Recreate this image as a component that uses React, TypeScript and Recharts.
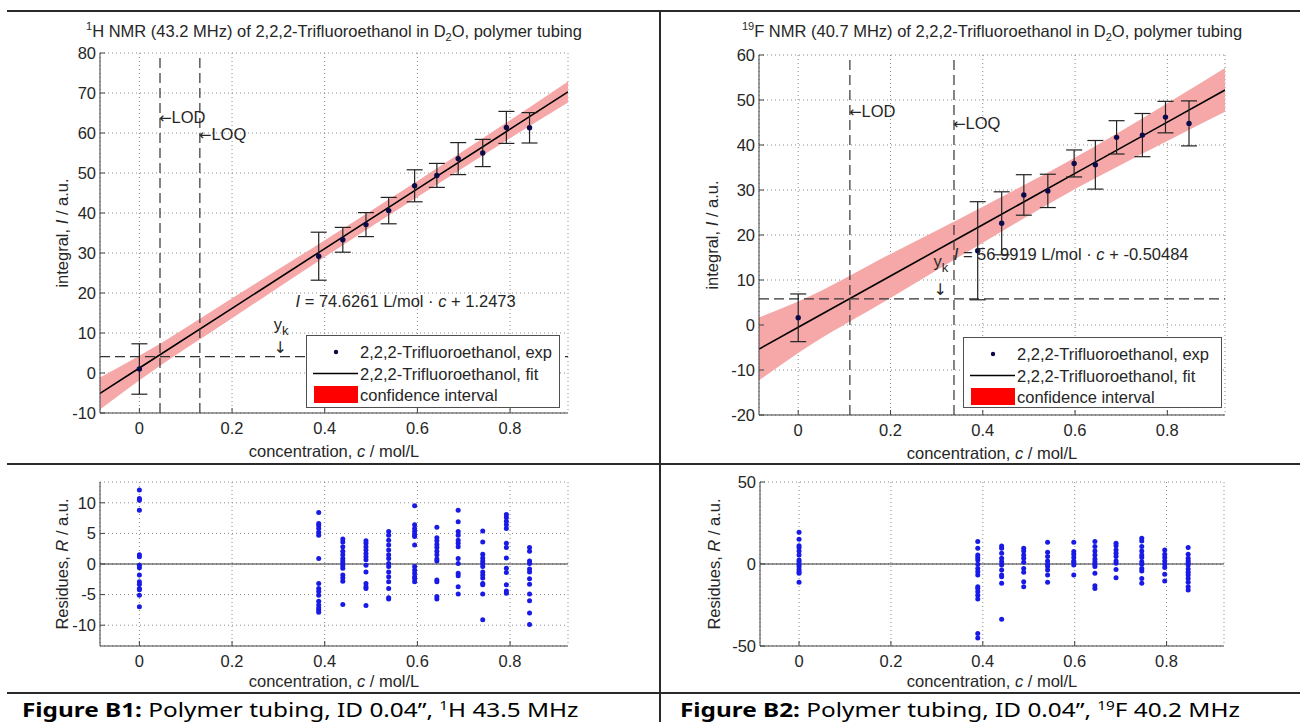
import React from 'react';
import {
  ComposedChart, XAxis, YAxis, CartesianGrid, Scatter, Line, Area, ErrorBar,
  ReferenceLine, ReferenceDot, Legend,
} from 'recharts';

// ---------------- data ----------------
const xTicks = [0, 0.2, 0.4, 0.6, 0.8];
const xDomain: [number, number] = [-0.085, 0.925];

// 1H (left)
const yTicksH = [-10, 0, 10, 20, 30, 40, 50, 60, 70, 80];
const concH = [0, 0.387, 0.439, 0.489, 0.538, 0.594, 0.642, 0.688, 0.741, 0.792, 0.842];
const integralH = [1.0, 29.2, 33.3, 37.1, 40.6, 46.8, 49.4, 53.6, 55.0, 61.4, 61.3];
const errH = [6.3, 6.0, 3.1, 3.0, 3.3, 4.0, 3.0, 4.0, 3.4, 4.0, 3.8];
const bandCH = [-0.085, 0, 0.2, 0.4, 0.6, 0.8, 0.925];
const fitH = [-5.10, 1.25, 16.17, 31.10, 46.02, 60.95, 70.28];
const bandLoH = [-9.1, -1.8, 13.7, 29.0, 44.0, 58.7, 67.6];
const bandHiH = [-1.1, 4.3, 18.7, 33.2, 48.0, 63.2, 72.9];
const lodH = 0.0445;
const loqH = 0.1305;
const ykH = 4.1;
const residTicksH = [-10, -5, 0, 5, 10];
const residH: number[][] = [
  [12.1, 10.7, 10.4, 8.8, 1.5, 1.2, -0.2, -0.6, -1.8, -2.9, -3.3, -4.0, -4.2, -5.1, -7.0],
  [8.4, 6.6, 6.3, 5.8, 5.2, 4.7, 0.9, -3.2, -4.0, -4.5, -5.1, -6.1, -6.7, -7.2, -7.5, -7.9],
  [4.1, 3.6, 2.8, 2.1, 1.5, 0.9, 0.5, 0.1, -0.3, -0.7, -1.8, -2.3, -2.8, -6.6],
  [3.8, 3.4, 2.8, 2.3, 1.7, 1.2, 0.7, -0.2, -1.3, -3.2, -3.7, -4.0, -6.8],
  [5.3, 4.7, 3.9, 3.1, 2.3, 1.5, 0.9, 0.1, -0.4, -1.3, -2.1, -2.9, -4.0, -5.5, -5.7],
  [9.5, 6.4, 5.8, 5.3, 4.8, 4.5, 3.1, -0.4, -1.0, -1.5, -2.1, -2.4, -2.9],
  [6.0, 4.3, 3.8, 3.2, 2.7, 2.1, 1.5, 0.8, 0.5, -2.6, -2.9, -5.3, -5.7],
  [8.8, 6.9, 5.3, 4.7, 3.9, 3.4, 2.8, 0.9, 0.1, -1.5, -1.9, -3.7, -4.9],
  [5.4, 3.6, 1.6, 1.0, 0.5, 0.1, -0.4, -1.3, -1.8, -2.3, -3.2, -3.4, -4.9, -9.1],
  [8.1, 7.6, 7.0, 6.4, 5.8, 3.4, 2.7, 1.0, -0.7, -1.4, -3.4, -4.4, -4.8],
  [2.7, 2.1, 0.5, 0.1, -0.8, -1.3, -2.4, -3.3, -4.9, -6.0, -8.0, -9.9],
];

// 19F (right)
const yTicksF = [-20, -10, 0, 10, 20, 30, 40, 50, 60];
const concF = [0, 0.389, 0.441, 0.489, 0.541, 0.598, 0.644, 0.690, 0.746, 0.796, 0.847];
const integralF = [1.6, 16.5, 22.6, 28.9, 29.8, 35.9, 35.6, 41.7, 42.2, 46.2, 44.8];
const errF = [5.3, 10.9, 7.0, 4.5, 3.7, 3.0, 5.4, 3.7, 4.8, 3.5, 5.0];
const bandCF = [-0.085, 0, 0.2, 0.4, 0.6, 0.8, 0.925];
const fitF = [-5.35, -0.50, 10.89, 22.29, 33.69, 45.09, 52.21];
const bandLoF = [-12.3, -6.2, 6.0, 18.3, 30.2, 40.9, 47.4];
const bandHiF = [1.7, 5.2, 15.8, 26.3, 37.2, 49.3, 57.1];
const lodF = 0.112;
const loqF = 0.3376;
const ykF = 5.8;
const residTicksF = [-50, 0, 50];
const residF: number[][] = [
  [19.4, 15.1, 11.2, 10.0, 8.0, 5.5, 2.4, 1.4, -0.2, -1.6, -3.3, -4.7, -5.7, -11.2],
  [13.7, 9.6, 5.5, 3.9, 2.4, -0.2, -2.7, -4.7, -6.7, -13.9, -14.9, -16.9, -19.0, -21.4, -42.4, -45.1],
  [11.0, 9.6, 6.5, 3.5, 1.4, -0.6, -3.7, -6.7, -7.8, -11.8, -33.7],
  [9.6, 8.0, 5.5, 3.5, 1.0, -2.7, -5.1, -10.8, -13.9],
  [13.3, 7.1, 4.5, 1.8, -0.2, -1.6, -3.7, -6.7, -11.2],
  [13.3, 7.6, 5.9, 3.9, 1.8, 1.0, -0.6, -6.7],
  [13.7, 10.6, 8.0, 5.5, 3.1, 1.4, -0.2, -1.6, -5.7, -13.3, -14.9],
  [12.7, 11.2, 8.6, 6.5, 4.5, 1.8, 0.4, -3.3, -8.4],
  [15.7, 14.1, 10.6, 8.0, 5.5, 3.9, 1.4, -0.2, -2.7, -4.3, -8.8, -11.8],
  [8.6, 5.9, 3.9, 1.8, -0.2, -2.2, -6.3, -10.4],
  [10.0, 5.9, 3.5, 1.8, 0.4, -0.6, -3.1, -5.1, -6.7, -8.8, -11.2, -13.9, -15.9],
];

// ---------------- styles ----------------
const FONT = '"Liberation Sans", Arial, Helvetica, sans-serif';
const ARROW_FONT = '"DejaVu Sans", sans-serif';
const TEXT = '#262626';
const AXIS = '#404040';
const GRID = '#8a8a8a';
const BAND = '#f6a8a8';
const DOT_TOP = '#0a0a4a';
const DOT_RES = '#1a1ae6';
const FS = 16.5;

const fmtX = (v: number) => (v === 0 ? '0' : String(v));

const tickStyle = { fill: TEXT, fontSize: FS, fontFamily: FONT };

const yLabel = (name: string, sym: string, dx: number) => (props: any) => {
  const vb = props.viewBox || { x: 0, y: 0, width: 0, height: 0 };
  const x = vb.x + dx;
  const y = vb.y + vb.height / 2;
  return (
    <text x={x} y={y} transform={`rotate(-90 ${x} ${y})`} textAnchor="middle"
      dominantBaseline="central" fontSize={FS} fontFamily={FONT} fill={TEXT}>
      {name}, <tspan fontStyle="italic">{sym}</tspan> / a.u.
    </text>
  );
};

const xLabel = (dy: number) => (props: any) => {
  const vb = props.viewBox || { x: 0, y: 0, width: 0, height: 0 };
  const x = vb.x + vb.width / 2;
  const y = vb.y + vb.height - dy;
  return (
    <text x={x} y={y} textAnchor="middle" fontSize={FS} fontFamily={FONT} fill={TEXT}>
      concentration, <tspan fontStyle="italic">c</tspan> / mol/L
    </text>
  );
};

const textShape = (content: React.ReactNode, anchor: 'start' | 'middle' = 'start') => (p: any) => (
  <text x={p.cx} y={p.cy} textAnchor={anchor} fontSize={FS} fontFamily={FONT} fill={TEXT}>
    {content}
  </text>
);

const arrowLabel = (label: string) => (p: any) => (
  <text x={p.cx - 1} y={p.cy} fontSize={FS} fontFamily={FONT} fill={TEXT}>
    <tspan fontFamily={ARROW_FONT} fontSize={15}>{'\u2190'}</tspan>{label}
  </text>
);

const downArrow = (p: any) => (
  <text x={p.cx} y={p.cy} textAnchor="middle" fontSize={16} fontFamily={ARROW_FONT} fill={TEXT}>
    {'\u2193'}
  </text>
);

const dotShape = (color: string, r: number) => (p: any) => (
  <circle cx={p.cx} cy={p.cy} r={r} fill={color} />
);

const LegendBox = ({ w, h }: { w: number; h: number }) => (
  <svg width={w} height={h} style={{ display: 'block', background: '#fff' }}>
    <rect x={0.5} y={0.5} width={w - 1} height={h - 1} fill="#fff" stroke="#505050" />
    <circle cx={30} cy={17} r={2.2} fill={DOT_TOP} />
    <text x={54} y={22.5} fontSize={FS} fontFamily={FONT} fill={TEXT}>2,2,2-Trifluoroethanol, exp</text>
    <line x1={7} x2={52} y1={38.5} y2={38.5} stroke="#000" strokeWidth={1.5} />
    <text x={54} y={44.5} fontSize={FS} fontFamily={FONT} fill={TEXT}>2,2,2-Trifluoroethanol, fit</text>
    <rect x={8} y={51} width={44} height={17} fill="#ff0000" />
    <text x={54} y={66} fontSize={FS} fontFamily={FONT} fill={TEXT}>confidence interval</text>
  </svg>
);

type TopCfg = {
  conc: number[]; integral: number[]; err: number[];
  bandC: number[]; fit: number[]; lo: number[]; hi: number[];
  yDomain: [number, number]; yTicks: number[];
  lod: number; loq: number; yk: number;
  margin: { top: number; right: number; bottom: number; left: number };
  ylabelDx: number;
  legend: { left: number; top: number; w: number; h: number };
  lodY: number; loqY: number;
  ykText: [number, number]; ykArrow: [number, number];
  eq: [number, number]; eqText: string;
};

const TopChart = (cfg: TopCfg) => {
  const pts = cfg.conc.map((c, i) => ({ c, y: cfg.integral[i], err: cfg.err[i] }));
  const band = cfg.bandC.map((c, i) => ({ c, band: [cfg.lo[i], cfg.hi[i]], fit: cfg.fit[i] }));
  const [slope, icpt] = cfg.eqText.split('|');
  return (
    <ComposedChart width={660} height={425} margin={cfg.margin}>
      <CartesianGrid stroke={GRID} strokeDasharray="1 3" />
      <XAxis type="number" dataKey="c" domain={xDomain} ticks={xTicks} allowDataOverflow
        tickFormatter={fmtX} tickSize={-5} tickMargin={14} height={45}
        axisLine={{ stroke: AXIS }} tickLine={{ stroke: AXIS }} tick={tickStyle}
        label={{ content: xLabel(1) }} />
      <XAxis xAxisId="top" orientation="top" type="number" domain={xDomain} ticks={xTicks}
        allowDataOverflow height={0} tick={false} tickSize={-5}
        axisLine={{ stroke: AXIS }} tickLine={{ stroke: AXIS }} />
      <YAxis type="number" domain={cfg.yDomain} ticks={cfg.yTicks} allowDataOverflow width={60}
        tickSize={-5} tickMargin={9} axisLine={{ stroke: AXIS }} tickLine={{ stroke: AXIS }}
        tick={tickStyle} label={{ content: yLabel('integral', 'I', cfg.ylabelDx) }} />
      <YAxis yAxisId="right" orientation="right" type="number" domain={cfg.yDomain} ticks={cfg.yTicks}
        allowDataOverflow width={0} tick={false} tickSize={-5}
        axisLine={{ stroke: AXIS }} tickLine={{ stroke: AXIS }} />
      <Area data={band} dataKey="band" type="monotone" fill={BAND} fillOpacity={1} stroke="none"
        isAnimationActive={false} />
      <Line data={band} dataKey="fit" type="linear" stroke="#000" strokeWidth={1.6} dot={false}
        isAnimationActive={false} />
      <ReferenceLine x={cfg.lod} stroke="#333" strokeDasharray="10 5" strokeWidth={1.2} />
      <ReferenceLine x={cfg.loq} stroke="#333" strokeDasharray="10 5" strokeWidth={1.2} />
      <ReferenceLine y={cfg.yk} stroke="#333" strokeDasharray="10 5" strokeWidth={1.2} />
      <Scatter data={pts} dataKey="y" shape={dotShape(DOT_TOP, 2.7)} isAnimationActive={false}>
        <ErrorBar dataKey="err" direction="y" width={8} stroke="#222" strokeWidth={1.2} />
      </Scatter>
      <ReferenceDot x={cfg.lod} y={cfg.lodY} r={0} shape={arrowLabel('LOD')} />
      <ReferenceDot x={cfg.loq} y={cfg.loqY} r={0} shape={arrowLabel('LOQ')} />
      <ReferenceDot x={cfg.ykText[0]} y={cfg.ykText[1]} r={0}
        shape={textShape(<>y<tspan dy={5} fontSize={13}>k</tspan></>)} />
      <ReferenceDot x={cfg.ykArrow[0]} y={cfg.ykArrow[1]} r={0} shape={downArrow} />
      <ReferenceDot x={cfg.eq[0]} y={cfg.eq[1]} r={0}
        shape={textShape(<><tspan fontStyle="italic">I</tspan>{' = ' + slope + ' L/mol \u00b7 '}<tspan fontStyle="italic">c</tspan>{' + ' + icpt}</>)} />
      <Legend layout="vertical" align="center" verticalAlign="middle"
        wrapperStyle={{ left: cfg.legend.left, top: cfg.legend.top, width: cfg.legend.w, height: cfg.legend.h }}
        content={() => <LegendBox w={cfg.legend.w} h={cfg.legend.h} />} />
    </ComposedChart>
  );
};

type ResCfg = {
  conc: number[]; resid: number[][]; yDomain: [number, number]; yTicks: number[];
  margin: { top: number; right: number; bottom: number; left: number }; ylabelDx: number;
};

const ResChart = (cfg: ResCfg) => {
  const pts = cfg.resid.flatMap((col, i) => col.map((r) => ({ c: cfg.conc[i], y: r })));
  return (
    <ComposedChart width={660} height={220} margin={cfg.margin}>
      <CartesianGrid stroke={GRID} strokeDasharray="1 3" />
      <XAxis type="number" dataKey="c" domain={xDomain} ticks={xTicks} allowDataOverflow
        tickFormatter={fmtX} tickSize={-5} tickMargin={14} height={44}
        axisLine={{ stroke: AXIS }} tickLine={{ stroke: AXIS }} tick={tickStyle}
        label={{ content: xLabel(3) }} />
      <XAxis xAxisId="top" orientation="top" type="number" domain={xDomain} ticks={xTicks}
        allowDataOverflow height={0} tick={false} tickSize={-5}
        axisLine={{ stroke: AXIS }} tickLine={{ stroke: AXIS }} />
      <YAxis type="number" domain={cfg.yDomain} ticks={cfg.yTicks} allowDataOverflow width={60}
        tickSize={-5} tickMargin={9} axisLine={{ stroke: AXIS }} tickLine={{ stroke: AXIS }}
        tick={tickStyle} label={{ content: yLabel('Residues', 'R', cfg.ylabelDx) }} />
      <YAxis yAxisId="right" orientation="right" type="number" domain={cfg.yDomain} ticks={cfg.yTicks}
        allowDataOverflow width={0} tick={false} tickSize={-5}
        axisLine={{ stroke: AXIS }} tickLine={{ stroke: AXIS }} />
      <ReferenceLine y={0} stroke="#333" strokeWidth={1.2} />
      <Scatter data={pts} dataKey="y" shape={dotShape(DOT_RES, 2.5)} isAnimationActive={false} />
    </ComposedChart>
  );
};

const hLine = (top: number): React.CSSProperties => ({
  position: 'absolute', left: 7, top, width: 1293, height: 2, background: '#2a2a2a',
});

const titleStyle = (left: number): React.CSSProperties => ({
  position: 'absolute', left, top: 16, width: 660, textAlign: 'center', fontSize: FS,
  lineHeight: '20px', color: TEXT, whiteSpace: 'nowrap',
});

const captionStyle = (left: number): React.CSSProperties => ({
  position: 'absolute', left, top: 696, fontFamily: '"Noto Sans", sans-serif', fontSize: 19,
  lineHeight: '19px', color: '#000', whiteSpace: 'nowrap', transform: 'scaleX(1.28)',
  transformOrigin: '0 0',
});

export default function App() {
  return (
    <div style={{ position: 'absolute', left: 0, top: 0, width: 1300, height: 722, background: '#fff', overflow: 'hidden', fontFamily: FONT }}>
      <div style={hLine(10)} />
      <div style={hLine(463)} />
      <div style={hLine(692)} />
      <div style={{ position: 'absolute', left: 659, top: 10, width: 2, height: 712, background: '#2a2a2a' }} />

      <div style={titleStyle(4)}>
        <sup style={{ fontSize: 11 }}>1</sup>H NMR (43.2 MHz) of 2,2,2-Trifluoroethanol in D<sub style={{ fontSize: 11 }}>2</sub>O, polymer tubing
      </div>
      <div style={titleStyle(662)}>
        <sup style={{ fontSize: 11 }}>19</sup>F NMR (40.7 MHz) of 2,2,2-Trifluoroethanol in D<sub style={{ fontSize: 11 }}>2</sub>O, polymer tubing
      </div>

      <div style={{ position: 'absolute', left: 0, top: 40 }}>
        <TopChart conc={concH} integral={integralH} err={errH} bandC={bandCH} fit={fitH} lo={bandLoH} hi={bandHiH}
          yDomain={[-10, 80]} yTicks={yTicksH} lod={lodH} loq={loqH} yk={ykH}
          margin={{ top: 13, right: 92, bottom: 7, left: 40 }} ylabelDx={22}
          legend={{ left: 306, top: 295, w: 254, h: 73 }}
          lodY={62.6} loqY={58.3} ykText={[0.29, 10.8]} ykArrow={[0.304, 5.0]}
          eq={[0.337, 16.6]} eqText="74.6261|1.2473" />
      </div>
      <div style={{ position: 'absolute', left: 660, top: 40 }}>
        <TopChart conc={concF} integral={integralF} err={errF} bandC={bandCF} fit={fitF} lo={bandLoF} hi={bandHiF}
          yDomain={[-20, 60]} yTicks={yTicksF} lod={lodF} loq={loqF} yk={ykF}
          margin={{ top: 15, right: 95, bottom: 5, left: 39 }} ylabelDx={13}
          legend={{ left: 303, top: 297, w: 259, h: 71 }}
          lodY={46.3} loqY={43.6} ykText={[0.293, 13.0]} ykArrow={[0.308, 6.6]}
          eq={[0.337, 14.5]} eqText="56.9919|-0.50484" />
      </div>

      <div style={{ position: 'absolute', left: 0, top: 470 }}>
        <ResChart conc={concH} resid={residH} yDomain={[-13.4, 13.4]} yTicks={residTicksH}
          margin={{ top: 12, right: 92, bottom: 0, left: 40 }} ylabelDx={22} />
      </div>
      <div style={{ position: 'absolute', left: 660, top: 470 }}>
        <ResChart conc={concF} resid={residF} yDomain={[-50, 50]} yTicks={residTicksF}
          margin={{ top: 12, right: 96, bottom: 0, left: 40 }} ylabelDx={14} />
      </div>

      <div style={captionStyle(22)}>
        <b>Figure B1:</b> Polymer tubing, ID 0.04&#8221;, <sup style={{ fontSize: 12 }}>1</sup>H 43.5 MHz
      </div>
      <div style={captionStyle(680)}>
        <b>Figure B2:</b> Polymer tubing, ID 0.04&#8221;, <sup style={{ fontSize: 12 }}>19</sup>F 40.2 MHz
      </div>
    </div>
  );
}
